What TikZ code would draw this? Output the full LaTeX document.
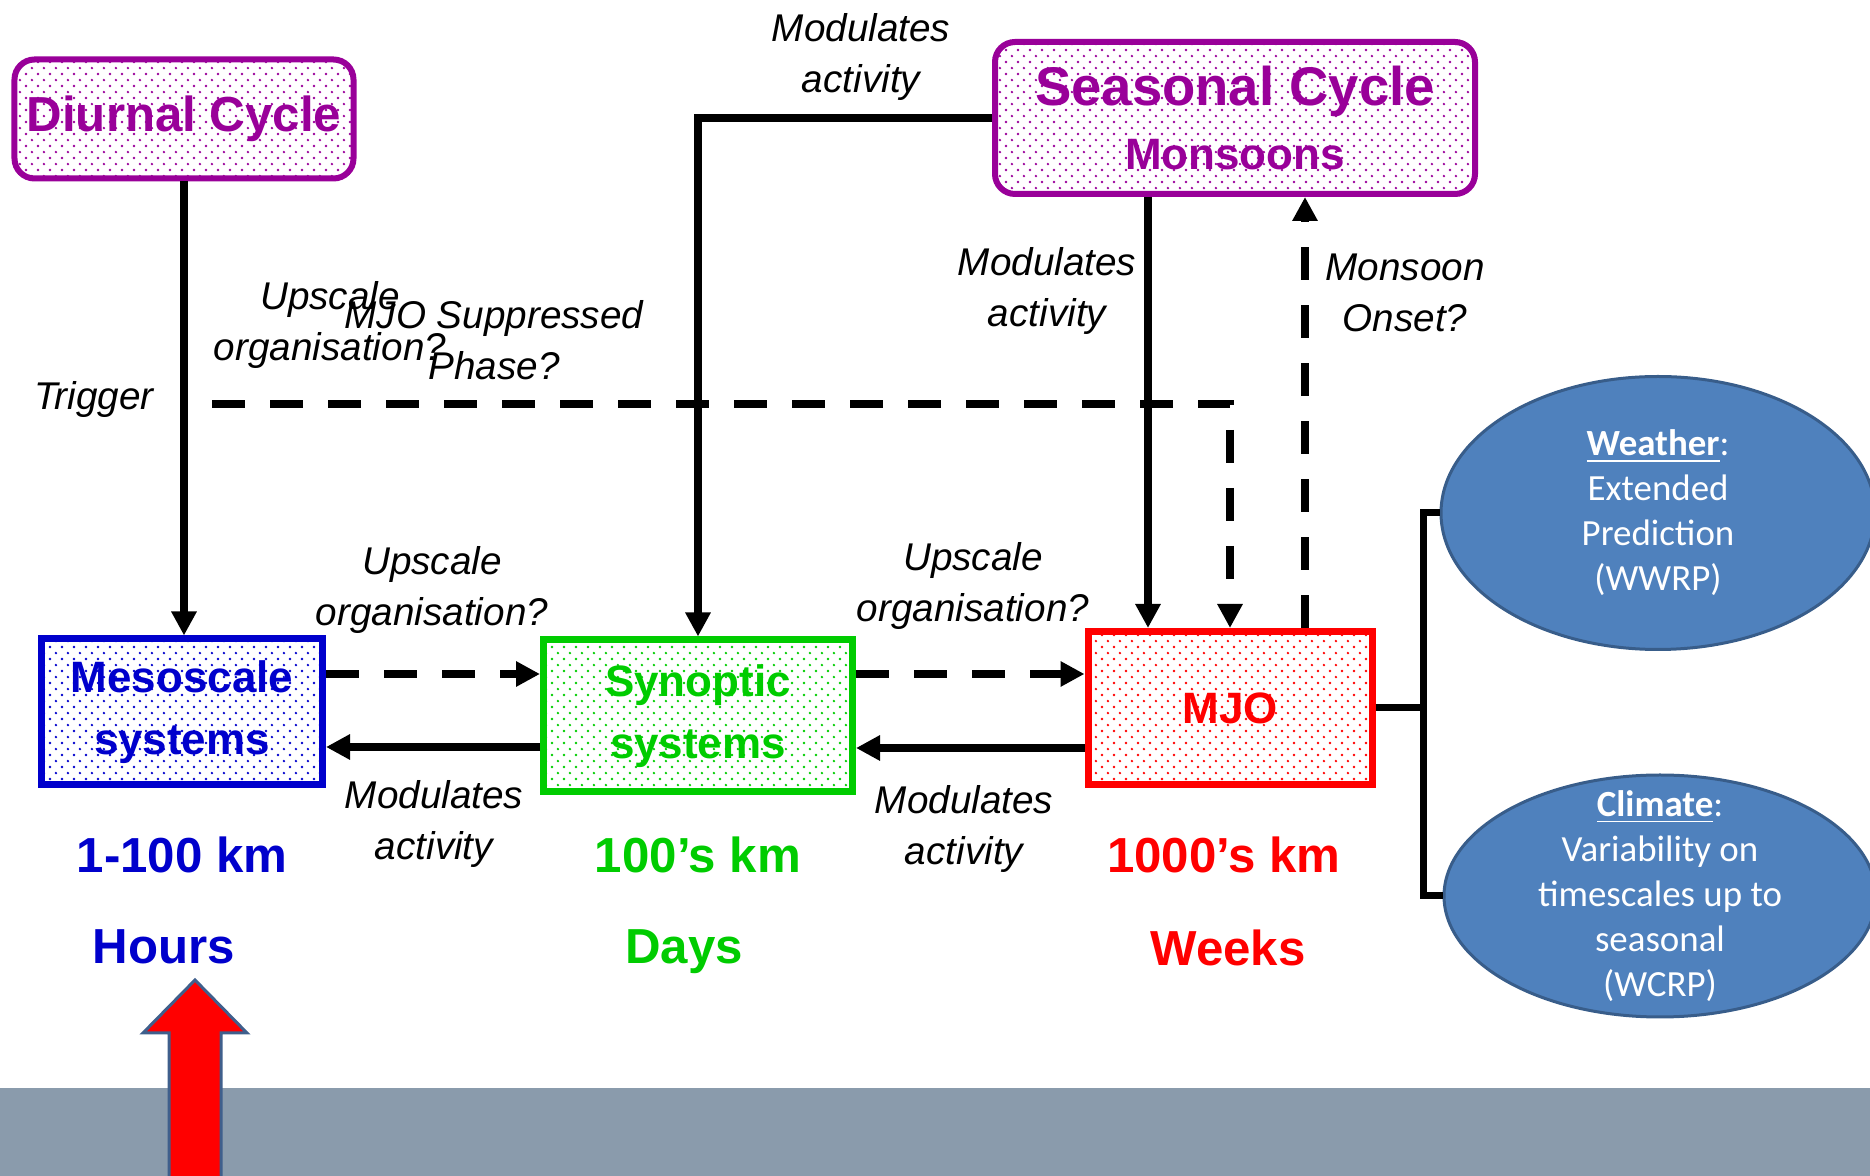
\documentclass[tikz,border=0pt]{standalone}
\usepackage{fontspec}
\setmainfont{Liberation Sans}
\newfontfamily\calibrifont{Carlito}
\usepackage{xcolor}
\usetikzlibrary{shapes.geometric, arrows.meta, positioning, calc, patterns.meta}

\definecolor{cyclepurple}{HTML}{990099}
\definecolor{mesoblue}{HTML}{0000CC}
\definecolor{synopgreen}{HTML}{00CC00}
\definecolor{mjored}{HTML}{FF0000}
\definecolor{goalblue}{HTML}{4F81BD}
\definecolor{goalborder}{HTML}{385D8A}
\definecolor{bandgray}{HTML}{8A9BAC}
\definecolor{arrowborder}{HTML}{3F5F8C}

\tikzdeclarepattern{
  name=boxdots,
  type=uncolored,
  bounding box={(0pt,0pt) and (3.4pt,3.4pt)},
  tile size={(3.4pt,3.4pt)},
  code={\fill (0.85pt,0.85pt) circle (0.38pt); \fill (2.55pt,2.55pt) circle (0.38pt);}
}

\begin{document}
\begin{tikzpicture}[
    scalebox/.style={rectangle, draw, line width=0.07cm, align=center, inner sep=0pt, font=\bfseries\fontsize{12.5}{17.5}\selectfont},
    cyclebox/.style={scalebox, rounded corners=0.2cm, line width=0.06cm, draw=cyclepurple, text=cyclepurple, pattern=boxdots, pattern color=cyclepurple},
    note/.style={font=\itshape\fontsize{11}{14.5}\selectfont, align=center, inner sep=0pt},
    scalelabel/.style={font=\bfseries\fontsize{14}{16}\selectfont, inner sep=0pt, text height=0.35cm, text depth=0pt},
    goal/.style={ellipse, draw=goalborder, fill=goalblue, line width=0.03cm, inner sep=0pt},
    goaltext/.style={font=\calibrifont\fontsize{10.5}{12.8}\selectfont, text=white, align=center, inner sep=0pt},
    arrow/.style={-{Triangle[length=0.24cm, width=0.24cm]}, line width=0.08cm},
    dasharrow/.style={arrow, dash pattern=on 0.33cm off 0.25cm},
    bracket/.style={line width=0.07cm}
]
\useasboundingbox (0,0) rectangle (18.7,-11.76);

% Bottom band and pointer
\fill[bandgray] (0,-10.88) rectangle (18.7,-11.76);
\filldraw[fill=red, draw=arrowborder, line width=0.03cm] (1.69,-11.85) -- (1.69,-10.33) -- (1.43,-10.33) -- (1.95,-9.80) -- (2.47,-10.33) -- (2.21,-10.33) -- (2.21,-11.85) -- cycle;

% Cycles
\node (diurnal) [cyclebox, minimum width=3.39cm, minimum height=1.19cm, font=\bfseries\fontsize{14}{16}\selectfont] at (1.84,-1.19) {Diurnal Cycle};
\node (seasonal) [cyclebox, minimum width=4.80cm, minimum height=1.52cm, font=\bfseries\fontsize{12.5}{18}\selectfont] at (12.35,-1.18) {{\fontsize{15.5}{18}\selectfont Seasonal Cycle}\\Monsoons};

% Systems
\node (meso) [scalebox, minimum width=2.81cm, minimum height=1.46cm, draw=mesoblue, text=mesoblue, pattern=boxdots, pattern color=mesoblue] at (1.82,-7.12) {Mesoscale\\systems};
\node (synoptic) [scalebox, minimum width=3.09cm, minimum height=1.52cm, draw=synopgreen, text=synopgreen, pattern=boxdots, pattern color=synopgreen] at (6.98,-7.16) {Synoptic\\systems};
\node (mjo) [scalebox, minimum width=2.84cm, minimum height=1.53cm, draw=mjored, text=mjored, pattern=boxdots, pattern color=mjored] at (12.30,-7.08) {MJO};

% Scales
\node (mesokm) [scalelabel, text=mesoblue] at (1.82,-8.55) {1-100 km};
\node (mesotime) [scalelabel, text=mesoblue] at (1.64,-9.46) {Hours};
\node (synkm) [scalelabel, text=synopgreen] at (6.98,-8.55) {100’s km};
\node (syntime) [scalelabel, text=synopgreen] at (6.84,-9.46) {Days};
\node (mjokm) [scalelabel, text=mjored] at (12.24,-8.55) {1000’s km};
\node (mjotime) [scalelabel, text=mjored] at (12.28,-9.48) {Weeks};

% Applications
\node (weather) [goal, minimum width=4.34cm, minimum height=2.73cm] at (16.58,-5.13) {};
\node (weathertext) [goaltext] at (weather.center) {\underline{\textbf{Weather}}:\\Extended\\Prediction\\(WWRP)};
\node (climate) [goal, minimum width=4.32cm, minimum height=2.42cm] at (16.60,-8.96) {};
\node (climatetext) [goaltext] at (climate.center) {\underline{\textbf{Climate}}:\\Variability on\\timescales up to\\seasonal\\(WCRP)};

% Arrows
\draw[arrow] (diurnal.south) -- (diurnal.south |- meso.north);
\draw[arrow] (seasonal.west) -| (synoptic.north);
\coordinate (feeddown) at ([xshift=-0.82cm]mjo.north);
\coordinate (feedup) at ([xshift=0.75cm]mjo.north);
\draw[arrow] (feeddown |- seasonal.south) -- (feeddown);
\draw[dasharrow] (feedup) -- (feedup |- seasonal.south);
\coordinate (supstart) at (2.12,-4.04);
\draw[dasharrow] (supstart) -| (mjo.north);
\draw[dasharrow] ([yshift=0.38cm]meso.east) -- ([yshift=0.38cm]meso.east -| synoptic.west);
\draw[arrow] ([yshift=-0.31cm]synoptic.west) -- ([yshift=-0.31cm]synoptic.west -| meso.east);
\draw[dasharrow] ([yshift=0.42cm]synoptic.east) -- ([yshift=0.42cm]synoptic.east -| mjo.west);
\draw[arrow] ([yshift=-0.40cm]mjo.west) -- ([yshift=-0.40cm]mjo.west -| synoptic.east);

% Bracket
\coordinate (fork) at (14.23,-7.08);
\draw[bracket] (mjo.east) -- (fork);
\draw[bracket] (weather.west) -- (fork |- weather.west) -- (fork |- climate.west) -- (climate.west);

% Labels
\node (trigger) [note] at (0.94,-4.00) {Trigger};
\node (upleft) [note] at (3.30,-3.25) {Upscale\\organisation?};
\node (suppressed) [note] at (4.94,-3.40) {MJO Suppressed\\Phase?};
\node (modtop) [note] at (8.61,-0.57) {Modulates\\activity};
\node (modseason) [note] at (10.47,-2.91) {Modulates\\activity};
\node (onset) [note] at (14.05,-2.93) {Monsoon\\Onset?};
\node (upmeso) [note] at (4.32,-5.90) {Upscale\\organisation?};
\node (modmeso) [note] at (4.34,-8.24) {Modulates\\activity};
\node (upsyn) [note] at (9.73,-5.86) {Upscale\\organisation?};
\node (modsyn) [note] at (9.64,-8.29) {Modulates\\activity};

\end{tikzpicture}
\end{document}
